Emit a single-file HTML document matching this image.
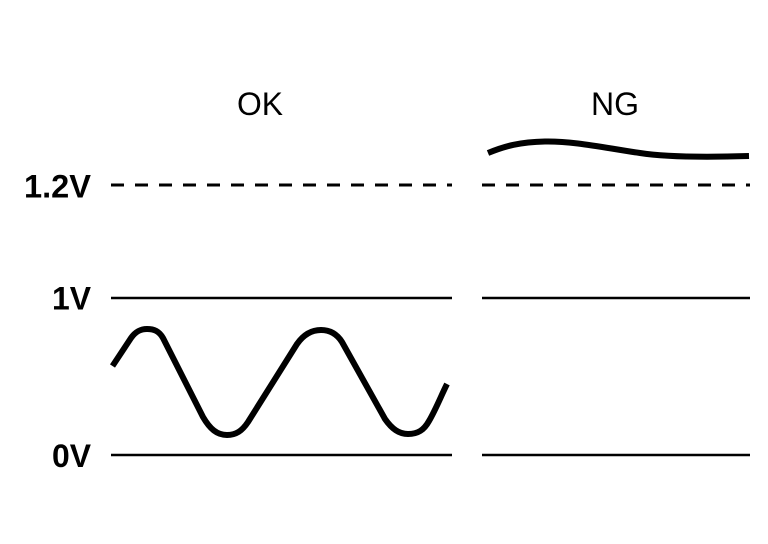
<!DOCTYPE html>
<html>
<head>
<meta charset="utf-8">
<style>
html,body{margin:0;padding:0;background:#fff;width:768px;height:544px;overflow:hidden}
svg{display:block}
text{font-family:"Liberation Sans",sans-serif;font-size:32px;fill:#000}
.b{font-weight:bold}
</style>
</head>
<body>
<svg width="768" height="544" viewBox="0 0 768 544" xmlns="http://www.w3.org/2000/svg">
<rect width="768" height="544" fill="#fff"/>
<text x="237" y="115" textLength="46" lengthAdjust="spacingAndGlyphs">OK</text>
<text x="591" y="115" textLength="48" lengthAdjust="spacingAndGlyphs">NG</text>
<text class="b" x="24" y="197.500" textLength="67" lengthAdjust="spacingAndGlyphs">1.2V</text>
<text class="b" x="52" y="309.500" textLength="39" lengthAdjust="spacingAndGlyphs">1V</text>
<text class="b" x="52" y="467" textLength="39" lengthAdjust="spacingAndGlyphs">0V</text>
<g stroke="#000" fill="none">
<line x1="111" y1="185" x2="452" y2="185" stroke-width="3" stroke-dasharray="13 11"/>
<line x1="482" y1="185" x2="750" y2="185" stroke-width="3" stroke-dasharray="13 11"/>
<g stroke-width="2.600">
<line x1="111" y1="298" x2="452" y2="298"/>
<line x1="482" y1="298" x2="750" y2="298"/>
<line x1="111" y1="455" x2="452" y2="455"/>
<line x1="482" y1="455" x2="750" y2="455"/>
</g>
</g>
<g stroke="#000" fill="none" stroke-linejoin="round">
<path stroke-width="6" d="M112.500 366 L131 338 C136 331 141 329 147 329 C154 329 159 331 163 338 L203 417 C210 429 217 435 227 435 C236 435 242 431 248 422 L297 344 C304 334 312 330 321 330 C330 330 337 334 342 342 L385 419 C392 429 399 434 408 434 C418 434 424 430 429 421 C436 409 441 396 447 384"/>
<path stroke-width="6" d="M488 153 C505 146 520 142 545 141.500 C575 141 605 148 640 153 C665 157 700 157.500 749 156"/>
</g>
</svg>
</body>
</html>
